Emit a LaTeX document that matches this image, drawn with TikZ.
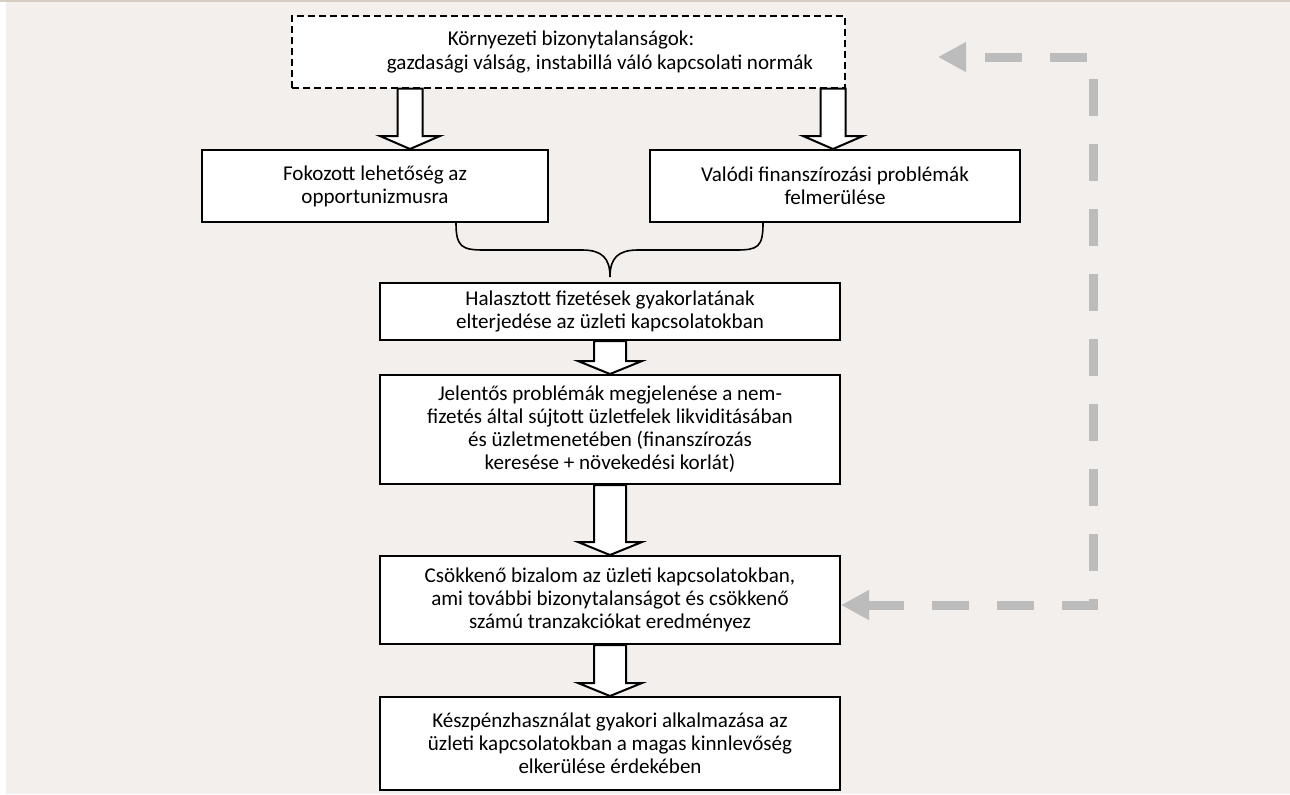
\documentclass[tikz,border=0pt]{standalone}
\usepackage{fontspec}
\setmainfont{Carlito}
\usetikzlibrary{arrows.meta,calc}
\definecolor{bgc}{RGB}{243,239,236}
\definecolor{loopc}{RGB}{188,188,188}
\definecolor{topl}{RGB}{214,204,194}
\newcommand\fs{\fontsize{15.8pt}{17.3pt}\selectfont}
\newcommand\BlkArrow[5]{%
  \coordinate (ax) at (#3,0);
  \coordinate (bat) at (#1.south -| ax);
  \coordinate (bto) at (#2.north -| ax);
  \draw[blk] ($(bat)+(-#4,0)$) -- ($(bat)+(#4,0)$) -- ($(bto)+(#4,-13)$) -- ($(bto)+(#5,-13)$) -- (bto) -- ($(bto)+(-#5,-13)$) -- ($(bto)+(-#4,-13)$) -- cycle;}
\begin{document}
\begin{tikzpicture}[x=0.75pt,y=-0.75pt,
  box/.style={draw, line width=1.5pt, fill=white, align=center, font=\fs, inner sep=0pt},
  envbox/.style={draw, line width=1.1pt, dash pattern=on 5.25pt off 3pt, fill=white, inner sep=0pt},
  txt/.style={align=center, font=\fs, inner sep=0pt},
  blk/.style={draw, line width=1.5pt, fill=white, line join=miter},
  brace/.style={draw, line width=1.2pt},
  loopline/.style={draw=loopc, line width=6.75pt, dash pattern=on 27.75pt off 21pt,
    {Triangle[length=21pt,width=21pt]}-{Triangle[length=21pt,width=21pt]}}]
\useasboundingbox (0,0) rectangle (1290,794);
\fill[bgc] (6,1.5) rectangle (1290,794);
\fill[topl] (0,0) rectangle (1290,1.5);

% boxes
\node[envbox, minimum width=414.75pt, minimum height=54pt] (env) at (568.5,52) {};
\node[txt] (envt) at (600,52) {Környezeti bizonytalanságok:\hspace*{43.5pt}\mbox{}\\gazdasági válság, instabillá váló kapcsolati normák};
\node[box, minimum width=259.5pt, minimum height=54pt] (fok) at (375,186) {Fokozott lehetőség az\\opportunizmusra};
\node[box, minimum width=277.5pt, minimum height=54pt] (val) at (835,186) {Valódi finanszírozási problémák\\felmerülése};
\node[box, minimum width=345pt, minimum height=42.75pt] (hal) at (610,311.5) {Halasztott fizetések gyakorlatának\\elterjedése az üzleti kapcsolatokban};
\node[box, minimum width=345pt, minimum height=81.75pt] (jel) at (610,429.5) {Jelentős problémák megjelenése a nem-\\fizetés által sújtott üzletfelek likviditásában\\és üzletmenetében (finanszírozás\\keresése + növekedési korlát)};
\node[box, minimum width=345pt, minimum height=66pt] (cso) at (610,600) {Csökkenő bizalom az üzleti kapcsolatokban,\\ami további bizonytalanságot és csökkenő\\számú tranzakciókat eredményez};
\node[box, minimum width=345pt, minimum height=69.75pt] (kes) at (610,743.5) {Készpénzhasználat gyakori alkalmazása az\\üzleti kapcsolatokban a magas kinnlevőség\\elkerülése érdekében};

% block arrows
\BlkArrow{env}{fok}{410}{12.5}{30}
\BlkArrow{env}{val}{833}{12.5}{30}
\BlkArrow{hal}{jel}{610}{16}{32}
\BlkArrow{jel}{cso}{610}{16}{32}
\BlkArrow{cso}{kes}{610}{16}{32}

% brace
\coordinate (bl) at (456,0);
\coordinate (br) at (763,0);
\draw[brace] (fok.south -| bl) .. controls (456,247) and (462,250) .. (484,250) -- (582,250) .. controls (602,250) and (610,258) .. (610,277) .. controls (610,258) and (618,250) .. (638,250) -- (736,250) .. controls (758,250) and (763,247) .. (val.south -| br);

% feedback loop
\coordinate (lc1) at (1093,57);
\coordinate (lc2) at (1093,605);
\coordinate (ltop) at (938,57);
\draw[loopline] (cso.east |- lc2) -- (lc2) -- (lc1) -- (ltop);
\end{tikzpicture}
\end{document}
